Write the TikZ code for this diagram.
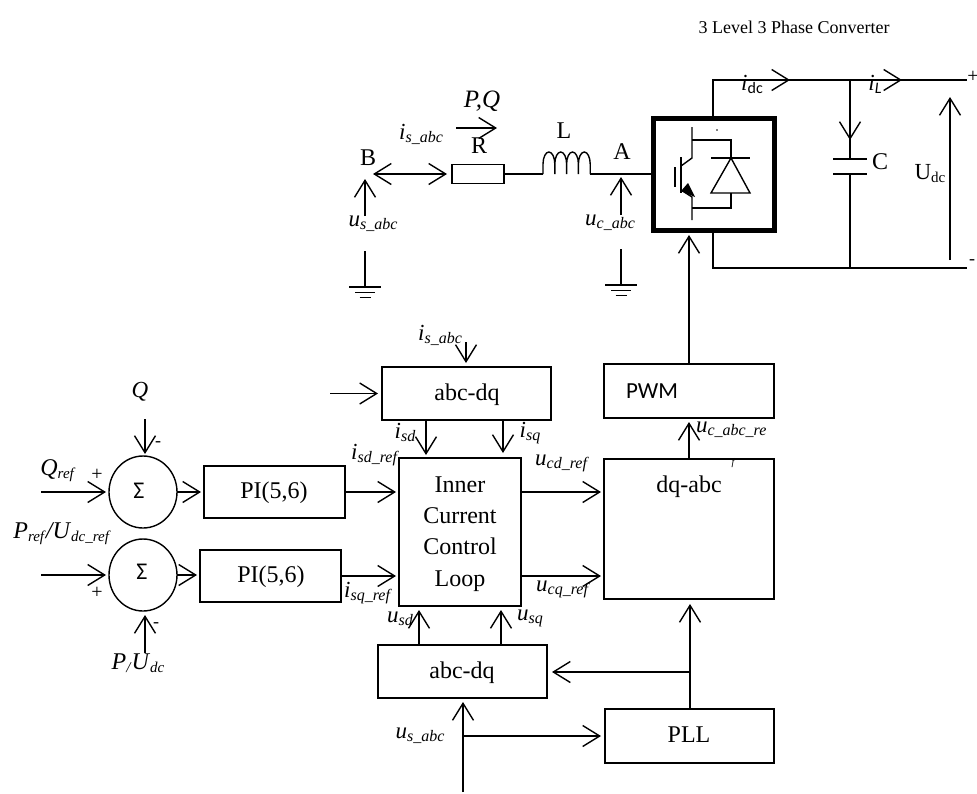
\documentclass[tikz,border=0pt]{standalone}
\usepackage{fontspec}
\setmainfont{Liberation Serif}
\newfontfamily\pwmfont{Carlito}
\usetikzlibrary{arrows.meta,shapes.geometric}
\newcommand{\lb}[2]{{\fontsize{23}{23}\selectfont\textit{#1}\raisebox{-3pt}{\fontsize{16}{16}\selectfont\textit{#2}}}}
\tikzset{
  wire/.style={line width=1.4pt,line cap=butt},
  arr/.style={wire,-{Straight Barb[length=17pt,width=21pt,line width=1.4pt]}},
  dbl/.style={wire,{Straight Barb[length=17pt,width=21pt,line width=1.4pt]}-{Straight Barb[length=17pt,width=21pt,line width=1.4pt]}},
  box/.style={draw,line width=1.4pt,rectangle,inner sep=0pt,outer sep=0pt},
  sumc/.style={draw,line width=1.4pt,ellipse,inner sep=0pt,outer sep=0pt,minimum width=68pt,minimum height=72pt},
  txt/.style={anchor=base,inner sep=0pt,outer sep=0pt,font=\fontsize{24}{24}\selectfont},
  lett/.style={inner sep=0pt,outer sep=0pt,font=\fontsize{24}{24}\selectfont},
  lab/.style={inner sep=0pt,outer sep=0pt}
}
\begin{document}
\begin{tikzpicture}[x=1pt,y=-1pt]
\useasboundingbox[fill=white] (0,0) rectangle (977,793);
% title
\node[lab,font=\fontsize{18}{18}\selectfont] (title) at (794,27) {3 Level 3 Phase Converter};
% converter
\node[box,line width=5pt,minimum width=121pt,minimum height=111.5pt] (conv) at (714,174.3) {};
\coordinate (dcT) at (713,80);
\coordinate (dcB) at (713,268);
\coordinate (capJ) at (850,80);
\coordinate (capJb) at (850,268);
\coordinate (plus) at (967,80);
\coordinate (minus) at (967,268);
\draw[wire] (conv.north -| dcT) -- (dcT) -- (plus);
\draw[wire] (conv.south -| dcB) -- (dcB) -- (minus);
\draw[arr] (dcT) ++(30,0) coordinate (idcA) -- (790,80);
\draw[arr] (capJ) ++(20,0) coordinate (iLA) -- (902,80);
\coordinate (capP1) at (850,159);
\coordinate (capP2) at (850,174);
\draw[wire] (capJ) -- (capP1);
\draw[arr] (capJ) -- (850,140);
\draw[wire] (capP2) -- (capJb);
\draw[wire] (833,159) -- (867,159) (833,174) -- (867,174);
\node[lett] (C) at (880,162) {C};
\node[lab] (Udc) at (930,174) {\fontsize{23}{23}\selectfont U\raisebox{-3pt}{\fontsize{15}{15}\selectfont dc}};
\coordinate (UdcB) at (950,260);
\coordinate (UdcT) at (950,97);
\draw[arr] (UdcB) -- (UdcT);
\node[lab,font=\fontsize{20}{20}\selectfont] (pl) at (973,77) {+};
\node[lab,font=\fontsize{18}{18}\selectfont] (mi) at (972,262) {-};
\node[lab] (idc) at (752,84) {\fontsize{23}{23}\selectfont\textit{i}\raisebox{-3pt}{\fontsize{16}{16}\selectfont\pwmfont dc}};
\node[lab] (iL) at (875,84) {\fontsize{23}{23}\selectfont\textit{i}\raisebox{-3pt}{\fontsize{16}{16}\selectfont\pwmfont\textit{L}}};
% IGBT + diode
\draw[wire] (692,127) -- (692,158) -- (681,166);
\draw[wire] (681,157) -- (681,193);
\draw[line width=2pt] (675,167) -- (675,187);
\draw[wire] (681,190) -- (692,197) -- (692,220);
\fill (681,191) -- (688,183) -- (695,197) -- cycle;
\draw[wire] (692,140) -- (731,140) -- (731,158);
\draw[wire] (711,158) -- (750,158);
\draw[wire] (731,158) -- (711,193) -- (750,193) -- cycle;
\draw[wire] (731,193) -- (731,208) -- (692,208);
\fill (717,130) circle (0.8pt);
% AC side
\node[box,minimum width=52pt,minimum height=19pt] (R) at (478,174) {};
\coordinate (Bc) at (373,174);
\coordinate (Lin) at (543,174);
\coordinate (Lout) at (590,174);
\draw[dbl] (Bc) -- (447,174);
\draw[wire] (R.east) -- (Lin);
\draw[wire] (Lin) -- ++(0,-10) arc[start angle=180,end angle=0,x radius=5.9pt,y radius=12pt] -- ++(0,10) -- ++(0,-10) arc[start angle=180,end angle=0,x radius=5.9pt,y radius=12pt] -- ++(0,10) -- ++(0,-10) arc[start angle=180,end angle=0,x radius=5.9pt,y radius=12pt] -- ++(0,10) -- ++(0,-10) arc[start angle=180,end angle=0,x radius=5.9pt,y radius=12pt] -- ++(0,10);
\draw[wire] (Lout) -- (conv.west |- Lout);
\node[lett] (Bl) at (368,158) {B};
\node[lett] (Al) at (622,152) {A};
\node[lett] (Rl) at (479,146) {R};
\node[lett] (Ll) at (564,131) {L};
\node[lab] (PQ) at (482,101) {\fontsize{25}{25}\selectfont\textit{P,Q}};
\coordinate (PQa) at (456,128);
\coordinate (PQb) at (497,128);
\draw[arr] (PQa) -- (PQb);
\node[lab] (is1) at (421,134) {\lb{i}{s\_abc}};
\node[lab] (us1) at (373,224) {\lb{u}{s\_abc}};
\node[lab] (uc1) at (610,223) {\lb{u}{c\_abc}};
\coordinate (usB) at (365,216);
\coordinate (usT) at (365,179);
\draw[arr] (usB) -- (usT);
\coordinate (ucB) at (621,215);
\coordinate (ucT) at (621,177);
\draw[arr] (ucB) -- (ucT);
\foreach \gx/\gy in {365/251,621/249}{
  \draw[wire] (\gx,\gy) -- (\gx,\gy+36);
  \draw[wire] (\gx-16,\gy+36) -- (\gx+16,\gy+36);
  \draw[wire] (\gx-10,\gy+41.5) -- (\gx+10,\gy+41.5);
  \draw[wire] (\gx-5.5,\gy+46.5) -- (\gx+5.5,\gy+46.5);
}
% PWM
\node[box,minimum width=170pt,minimum height=54pt] (pwm) at (689,391) {};
\node[lab,font=\fontsize{23}{23}\selectfont\pwmfont] (pwmt) at (652,391) {PWM};
\coordinate (convIn) at (689,235);
\draw[arr] (pwm.north) -- (convIn);
% dq-abc
\node[box,minimum width=170pt,minimum height=140pt] (dq) at (689,529) {};
\node[txt] (dqt) at (689,492) {dq-abc};
\draw[arr] (dq.north) -- ([yshift=-4pt]pwm.south);
\node[lab,anchor=west] (ucr) at (696,430) {\lb{u}{c\_abc\_re}};
\node[lab,font=\fontsize{10}{10}\selectfont\itshape] (ucr2) at (733,463) {f};
% abc-dq top
\node[box,minimum width=169pt,minimum height=53pt] (ad1) at (466.5,393.5) {};
\node[txt] (ad1t) at (467,400) {abc-dq};
\coordinate (ad1L) at (330,393.5);
\draw[arr] (ad1L) -- ([xshift=-4pt]ad1.west);
\coordinate (ad1T) at (466,342);
\draw[arr] (ad1T) -- (466,363);
\node[lab] (is2) at (440,335) {\lb{i}{s\_abc}};
% inner loop
\node[box,minimum width=122pt,minimum height=148pt] (inner) at (460,532) {};
\node[txt] (in1) at (460,492) {Inner};
\node[txt] (in2) at (460,523) {Current};
\node[txt] (in3) at (460,554) {Control};
\node[txt] (in4) at (460,586) {Loop};
\coordinate (isdT) at (426,420);
\coordinate (isqT) at (503,420);
\draw[arr] (isdT) -- (426,455);
\draw[arr] (isqT) -- (503,453);
\node[lab] (isd) at (405,432) {\lb{i}{sd}};
\node[lab] (isq) at (530,433) {\lb{i}{sq}};
\node[lab] (isdr) at (375,455) {\lb{i}{sd\_ref}};
\node[lab] (isqr) at (368,593) {\lb{i}{sq\_ref}};
\node[lab] (ucd) at (562,463) {\lb{u}{cd\_ref}};
\node[lab] (ucq) at (563,589) {\lb{u}{cq\_ref}};
\node[lab] (usd) at (400,619) {\lb{u}{sd}};
\node[lab] (usq) at (530,618) {\lb{u}{sq}};
\draw[arr] (inner.east |- 0,492) -- (601,492);
\draw[arr] (inner.east |- 0,576) -- (601,576);
% sum + PI
\node[sumc] (s1) at (143,492) {};
\node[sumc] (s2) at (143,575) {};
\node[lab,font=\fontsize{24}{24}\selectfont\pwmfont] (s1t) at (139,491) {Σ};
\node[lab,font=\fontsize{24}{24}\selectfont\pwmfont] (s2t) at (142,572) {Σ};
\node[box,minimum width=141pt,minimum height=52pt] (pi1) at (274.5,492) {};
\node[box,minimum width=141pt,minimum height=52pt] (pi2) at (270.5,576) {};
\node[txt] (pi1t) at (274,498) {PI(5,6)};
\node[txt] (pi2t) at (271,582) {PI(5,6)};
\draw[arr] (s1.east) -- (201,492);
\draw[arr] (s2.east) -- (197,575);
\draw[arr] (pi1.east) -- (396,492);
\draw[arr] (pi2.east) -- (396,576);
\coordinate (qr) at (41,492);
\coordinate (pr) at (41,575);
\coordinate (qt) at (145,419);
\coordinate (pb) at (145,653);
\draw[arr] (qr) -- (106,492);
\draw[arr] (pr) -- (106,575);
\draw[arr] (qt) -- (145,454);
\draw[arr] (pb) -- (145,615);
\node[lab] (Q) at (140,392) {\fontsize{23}{23}\selectfont\textit{Q}};
\node[lab] (Qr) at (58,471) {\fontsize{24}{24}\selectfont\textit{Q}\raisebox{-3pt}{\fontsize{15}{15}\selectfont\textit{ref}}};
\node[lab] (Pr) at (62,534) {\fontsize{24}{24}\selectfont\textit{P}\raisebox{-3pt}{\fontsize{15}{15}\selectfont\textit{ref}}\textit{/U}\raisebox{-3pt}{\fontsize{15}{15}\selectfont\textit{dc\_ref}}};
\node[lab] (Pu) at (138,663) {\fontsize{24}{24}\selectfont\textit{P}\raisebox{-3pt}{\fontsize{15}{15}\selectfont\textit{/}}\textit{U}\raisebox{-3pt}{\fontsize{15}{15}\selectfont\textit{dc}}};
\node[lab,font=\fontsize{20}{20}\selectfont] (p1) at (97,475) {+};
\node[lab,font=\fontsize{20}{20}\selectfont] (p2) at (97,593) {+};
\node[lab,font=\fontsize{18}{18}\selectfont] (m1) at (158,444) {-};
\node[lab,font=\fontsize{18}{18}\selectfont] (m2) at (156,625) {-};
% abc-dq bottom
\node[box,minimum width=169pt,minimum height=53pt] (ad2) at (462.5,671.5) {};
\node[txt] (ad2t) at (462,678) {abc-dq};
\draw[arr] (ad2.north -| 419,0) -- (419,610);
\draw[arr] (ad2.north -| 501,0) -- (501,610);
% PLL
\node[box,minimum width=169pt,minimum height=54pt] (pll) at (689.5,736) {};
\node[txt] (pllt) at (689,742) {PLL};
\coordinate (j) at (690,672);
\draw[arr] (pll.north -| j) -- (690,604);
\draw[arr] (j) -- (552,672);
\coordinate (usIn) at (463,792);
\coordinate (usJ) at (463,736);
\draw[arr] (usIn) -- (463,702);
\draw[arr] (usJ) -- (601,736);
\node[lab] (us2) at (420,736) {\lb{u}{s\_abc}};
\end{tikzpicture}
\end{document}
